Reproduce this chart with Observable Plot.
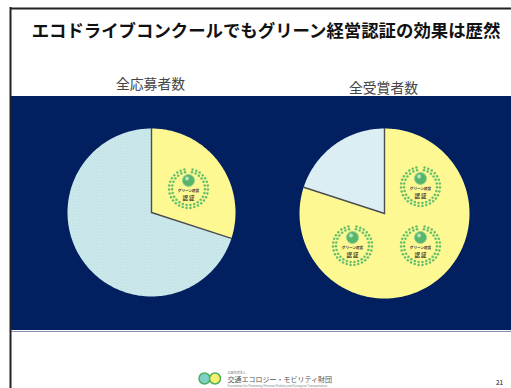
<!DOCTYPE html>
<html lang="ja">
<head>
<meta charset="utf-8">
<script src="https://cdn.jsdelivr.net/npm/d3@7"></script>
<script src="https://cdn.jsdelivr.net/npm/@observablehq/plot@0.6"></script>
<style>
  html, body { margin: 0; padding: 0; background: #fff; overflow: hidden; }
  svg { display: block; }
</style>
</head>
<body>
<div id="chart"></div>
<script>
// Share of entrants and of winners holding Green Management certification (%)
const sliceNames = ["認証あり", "認証なし"];
const applicantShares = [30, 70];
const awardeeShares = [80, 20];

const chartTitle = "エコドライブコンクールでもグリーン経営認証の効果は歴然";
const pieTitles = ["全応募者数", "全受賞者数"];
const foundationName = "交通エコロジー・モビリティ財団";
const foundationTop = "公益財団法人";
const foundationSub = "Foundation for Promoting Personal Mobility and Ecological Transportation";
const pageNumber = "21";

const FONT = "'Noto Sans CJK JP', 'Noto Sans', sans-serif";
const W = 511, H = 388;

// Pies share one slide-sized coordinate system
const pies = [
  {name: pieTitles[0], shares: applicantShares, cx: 151, cy: 212, r: 84, fills: ["#fdf892", "url(#dotted)"], labelX: 150, labelY: 84},
  {name: pieTitles[1], shares: awardeeShares, cx: 384, cy: 213, r: 85, fills: ["#fdf892", "#dcedf3"], labelX: 383, labelY: 88}
];

// Walks clockwise from twelve o'clock, producing one closed outline per slice
function sliceOutlines(pie) {
  const rows = [];
  let start = 0;
  const total = d3.sum(pie.shares);
  pie.shares.forEach((share, i) => {
    const end = start + share / total * 2 * Math.PI;
    const id = `${pie.name}-${sliceNames[i]}`;
    const at = a => ({id, fill: pie.fills[i], x: pie.cx + pie.r * Math.sin(a), y: pie.cy - pie.r * Math.cos(a)});
    rows.push({id, fill: pie.fills[i], x: pie.cx, y: pie.cy});
    const steps = Math.max(2, Math.ceil((end - start) / 0.02));
    for (let k = 0; k <= steps; k++) rows.push(at(start + (end - start) * k / steps));
    rows.push({id, fill: pie.fills[i], x: pie.cx, y: pie.cy});
    start = end;
  });
  return rows;
}

// The two straight edges where the slices meet
function sliceEdges(pie) {
  const rows = [];
  let start = 0;
  const total = d3.sum(pie.shares);
  pie.shares.forEach(share => {
    const id = `${pie.name}-${start}`;
    rows.push({id, x: pie.cx, y: pie.cy});
    rows.push({id, x: pie.cx + pie.r * Math.sin(start), y: pie.cy - pie.r * Math.cos(start)});
    start += share / total * 2 * Math.PI;
  });
  return rows;
}

// Certification badges: one on the entrants pie, three on the winners pie
const badges = [
  {x: 188, y: 188},
  {x: 420, y: 186},
  {x: 420, y: 245},
  {x: 352, y: 245}
];

// Laurel wreath: two rings of small leaves, open at the top
function laurelLeaves(b) {
  const rows = [];
  for (const [radius, count] of [[19.5, 30], [16.5, 26]]) {
    d3.range(count).forEach(k => {
      const a = (12 + (336 * k) / (count - 1)) * Math.PI / 180;
      rows.push({x: b.x + radius * Math.sin(a), y: b.y - radius * Math.cos(a)});
    });
  }
  return rows;
}

const outlines = pies.flatMap(sliceOutlines);
const edges = pies.flatMap(sliceEdges);
const leaves = badges.flatMap(laurelLeaves);

// Fine stipple used by the uncertified slice of the entrants pie
const stippleDefs = () => {
  const defs = d3.create("svg:defs");
  const pattern = defs.append("pattern")
    .attr("id", "dotted").attr("width", 3).attr("height", 3)
    .attr("patternUnits", "userSpaceOnUse");
  pattern.append("rect").attr("width", 3).attr("height", 3).attr("fill", "#d3ecee");
  pattern.append("rect").attr("width", 1).attr("height", 1).attr("fill", "#a3d3da");
  pattern.append("rect").attr("x", 1.5).attr("y", 1.5).attr("width", 1).attr("height", 1).attr("fill", "#a3d3da");
  return defs.node();
};

const plot = Plot.plot({
  width: W,
  height: H,
  margin: 0,
  x: {domain: [0, W], range: [0, W], axis: null},
  y: {domain: [0, H], range: [0, H], axis: null},
  style: {background: "#fff", fontFamily: FONT},
  marks: [
    stippleDefs,
    // Slide frame and navy band
    Plot.rect([{x1: 11, x2: W, y1: 96, y2: 330}], {x1: "x1", x2: "x2", y1: "y1", y2: "y2", fill: "#02205f"}),
    Plot.ruleY([331], {x1: 11, x2: W, stroke: "#8a90a8", strokeWidth: 1}),
    Plot.ruleX([10], {y1: 7, y2: H, stroke: "#222", strokeWidth: 2}),
    Plot.ruleY([8], {x1: 10, x2: W, stroke: "#222", strokeWidth: 2}),

    // Pie slices
    Plot.line(outlines, {x: "x", y: "y", z: "id", fill: "fill", stroke: null, curve: "linear"}),
    Plot.line(edges, {x: "x", y: "y", z: "id", stroke: "#4b4f52", strokeWidth: 1.4}),

    // Certification badges
    Plot.dot(leaves, {x: "x", y: "y", r: 1.25, fill: "#63bf6b"}),
    Plot.dot(badges, {x: "x", y: d => d.y - 8, r: 6, fill: "#58b56c", stroke: "#8fd08c", strokeWidth: 1}),
    Plot.dot(badges, {x: d => d.x - 1.5, y: d => d.y - 10, r: 2, fill: "#b6e3bd"}),
    Plot.text(badges, {x: "x", y: d => d.y + 2, text: () => "グリーン経営", fontSize: 3.6, fontWeight: 700, fill: "#333"}),
    Plot.text(badges, {x: "x", y: d => d.y + 9.5, text: () => "認 証", fontSize: 5.5, fontWeight: 700, fill: "#4b4030"}),

    // Headings
    Plot.text([chartTitle], {x: 265.5, y: 31, text: d => d, fontSize: 17.4, fontWeight: 700, fill: "#111"}),
    Plot.text(pies, {x: "labelX", y: "labelY", text: "name", fontSize: 13.8, fill: "#444"}),

    // Footer
    Plot.dot([{x: 204, y: 378, f: "#7fd0c8"}, {x: 214.5, y: 378, f: "#f6ee6c"}], {x: "x", y: "y", r: 5.5, fill: "f", stroke: "#4fae5c", strokeWidth: 1.5}),
    Plot.text([foundationTop], {x: 227, y: 372.5, text: d => d, fontSize: 3, textAnchor: "start", fill: "#777"}),
    Plot.text([foundationName], {x: 227, y: 379.5, text: d => d, fontSize: 7, textAnchor: "start", fill: "#555"}),
    Plot.text([foundationSub], {x: 227, y: 385.5, text: d => d, fontSize: 2.9, textAnchor: "start", fill: "#888"}),
    Plot.text([pageNumber], {x: 499, y: 383, text: d => d, fontSize: 6, fontWeight: 700, fill: "#555"})
  ]
});

document.getElementById("chart").append(plot);
</script>
</body>
</html>
